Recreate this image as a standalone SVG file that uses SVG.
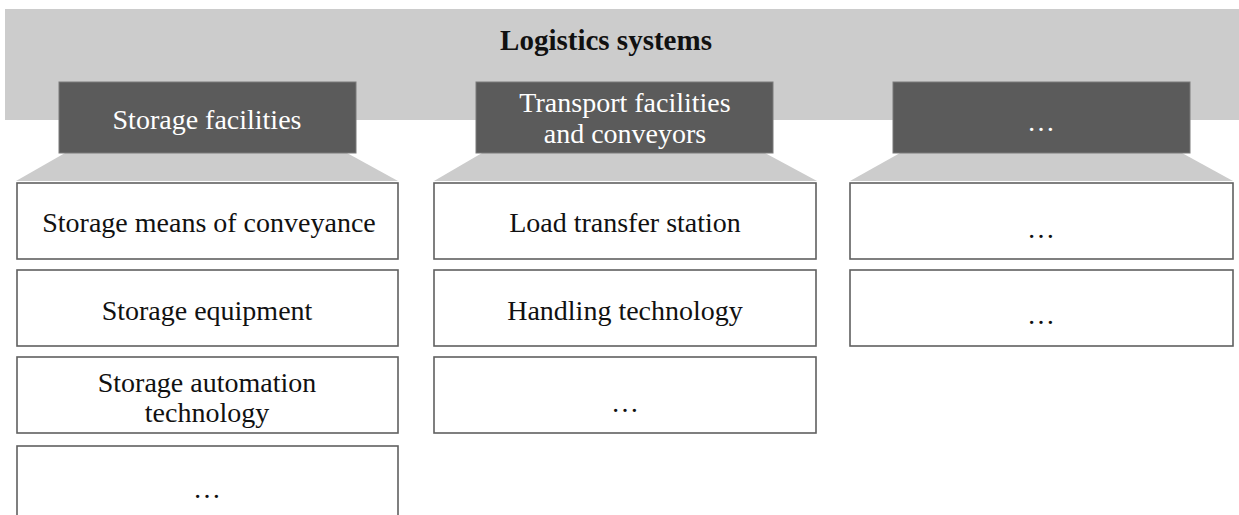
<svg xmlns="http://www.w3.org/2000/svg" width="1239" height="515" viewBox="0 0 1239 515">
<style>
.band{fill:#cccccc}
.hdr{fill:#5b5b5b;stroke:#7a7a7a;stroke-width:1}
.trap{fill:#cccccc}
.box{fill:#ffffff;stroke:#606060;stroke-width:1.6}
.t{font-family:"Liberation Serif","Times New Roman",serif;font-size:28px;fill:#111;text-anchor:middle;dominant-baseline:central}
.th{font-family:"Liberation Serif","Times New Roman",serif;font-size:28px;fill:#ffffff;text-anchor:middle;dominant-baseline:central}
.title{font-family:"Liberation Serif","Times New Roman",serif;font-size:29px;font-weight:bold;fill:#111;text-anchor:middle;dominant-baseline:central}
</style>
<rect width="1239" height="515" fill="#ffffff"/>
<g id="logistics-systems">
<rect class="band" x="5" y="9" width="1234" height="111"/>
<text class="title" x="606" y="40">Logistics systems</text>
</g>
<g id="connectors">
<polygon class="trap" points="65,153 347,153 398,181 16,181"/>
<polygon class="trap" points="482,153 765,153 817,181 434,181"/>
<polygon class="trap" points="900,153 1182,153 1233,181 850,181"/>
</g>
<g id="storage-facilities">
<rect class="hdr" x="59" y="82" width="297" height="71"/>
<text class="th" x="207" y="119">Storage facilities</text>
</g>
<g id="transport-facilities">
<rect class="hdr" x="476" y="82" width="297" height="71"/>
<text class="th" x="625" y="102">Transport facilities</text>
<text class="th" x="625" y="133">and conveyors</text>
</g>
<g id="other-header">
<rect class="hdr" x="893" y="82" width="297" height="71"/>
<text class="th" x="1041" y="121">…</text>
</g>
<g id="storage-means">
<rect class="box" x="17" y="183" width="381" height="76"/>
<text class="t" x="209" y="222">Storage means of conveyance</text>
</g>
<g id="storage-equipment">
<rect class="box" x="17" y="270" width="381" height="76"/>
<text class="t" x="207" y="310">Storage equipment</text>
</g>
<g id="storage-automation">
<rect class="box" x="17" y="357" width="381" height="76"/>
<text class="t" x="207" y="382">Storage automation</text>
<text class="t" x="207" y="412">technology</text>
</g>
<g id="storage-more">
<rect class="box" x="17" y="446" width="381" height="76"/>
<text class="t" x="207" y="488">…</text>
</g>
<g id="load-transfer">
<rect class="box" x="434" y="183" width="382" height="76"/>
<text class="t" x="625" y="222">Load transfer station</text>
</g>
<g id="handling-technology">
<rect class="box" x="434" y="270" width="382" height="76"/>
<text class="t" x="625" y="310">Handling technology</text>
</g>
<g id="transport-more">
<rect class="box" x="434" y="357" width="382" height="76"/>
<text class="t" x="625" y="402">…</text>
</g>
<g id="other-1">
<rect class="box" x="850" y="183" width="383" height="76"/>
<text class="t" x="1041" y="228">…</text>
</g>
<g id="other-2">
<rect class="box" x="850" y="270" width="383" height="76"/>
<text class="t" x="1041" y="314">…</text>
</g>
</svg>
